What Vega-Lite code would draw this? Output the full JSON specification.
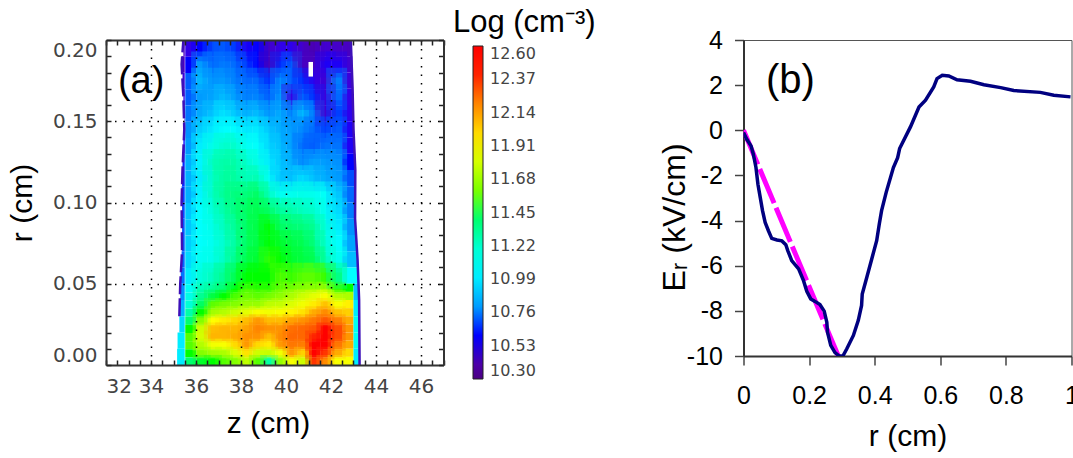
{"$schema":"https://vega.github.io/schema/vega-lite/v6.json","background":"white","padding":{"left":7,"top":6,"right":0,"bottom":0},"bounds":"flush","spacing":299.5,"config":{"view":{"stroke":null},"font":"Liberation Sans"},
"datasets":{
"upper":[
{"z":35.75,"r":0.195,"n":10.55},{"z":36.25,"r":0.195,"n":10.6},{"z":36.75,"r":0.195,"n":10.66},{"z":37.25,"r":0.195,"n":10.68},{"z":37.75,"r":0.195,"n":10.63},{"z":38.25,"r":0.195,"n":10.58},{"z":38.75,"r":0.195,"n":10.6},{"z":39.25,"r":0.195,"n":10.46},{"z":39.75,"r":0.195,"n":10.55},{"z":40.25,"r":0.195,"n":10.56},{"z":40.75,"r":0.195,"n":10.48},{"z":41.25,"r":0.195,"n":10.42},{"z":41.75,"r":0.195,"n":10.5},{"z":42.25,"r":0.195,"n":10.48},
{"z":35.75,"r":0.185,"n":10.6},{"z":36.25,"r":0.185,"n":10.8},{"z":36.75,"r":0.185,"n":10.7},{"z":37.25,"r":0.185,"n":10.74},{"z":37.75,"r":0.185,"n":10.7},{"z":38.25,"r":0.185,"n":10.64},{"z":38.75,"r":0.185,"n":10.6},{"z":39.25,"r":0.185,"n":10.44},{"z":39.75,"r":0.185,"n":10.62},{"z":40.25,"r":0.185,"n":10.68},{"z":40.75,"r":0.185,"n":10.46},{"z":41.25,"r":0.185,"n":10.46},{"z":41.75,"r":0.185,"n":10.58},{"z":42.25,"r":0.185,"n":10.58},
{"z":35.75,"r":0.175,"n":10.68},{"z":36.25,"r":0.175,"n":10.86},{"z":36.75,"r":0.175,"n":10.78},{"z":37.25,"r":0.175,"n":10.8},{"z":37.75,"r":0.175,"n":10.74},{"z":38.25,"r":0.175,"n":10.7},{"z":38.75,"r":0.175,"n":10.7},{"z":39.25,"r":0.175,"n":10.62},{"z":39.75,"r":0.175,"n":10.78},{"z":40.25,"r":0.175,"n":10.68},{"z":40.75,"r":0.175,"n":10.62},{"z":41.25,"r":0.175,"n":10.56},{"z":41.75,"r":0.175,"n":10.5},{"z":42.25,"r":0.175,"n":10.74},
{"z":35.75,"r":0.165,"n":10.68},{"z":36.25,"r":0.165,"n":10.8},{"z":36.75,"r":0.165,"n":10.82},{"z":37.25,"r":0.165,"n":10.88},{"z":37.75,"r":0.165,"n":10.8},{"z":38.25,"r":0.165,"n":10.74},{"z":38.75,"r":0.165,"n":10.76},{"z":39.25,"r":0.165,"n":10.68},{"z":39.75,"r":0.165,"n":10.8},{"z":40.25,"r":0.165,"n":10.54},{"z":40.75,"r":0.165,"n":10.7},{"z":41.25,"r":0.165,"n":10.62},{"z":41.75,"r":0.165,"n":10.52},{"z":42.25,"r":0.165,"n":10.7},
{"z":35.75,"r":0.155,"n":10.72},{"z":36.25,"r":0.155,"n":10.83},{"z":36.75,"r":0.155,"n":10.9},{"z":37.25,"r":0.155,"n":10.98},{"z":37.75,"r":0.155,"n":10.9},{"z":38.25,"r":0.155,"n":10.84},{"z":38.75,"r":0.155,"n":10.88},{"z":39.25,"r":0.155,"n":10.78},{"z":39.75,"r":0.155,"n":10.84},{"z":40.25,"r":0.155,"n":10.74},{"z":40.75,"r":0.155,"n":10.88},{"z":41.25,"r":0.155,"n":10.72},{"z":41.75,"r":0.155,"n":10.5},{"z":42.25,"r":0.155,"n":10.64},
{"z":35.75,"r":0.145,"n":10.78},{"z":36.25,"r":0.145,"n":10.92},{"z":36.75,"r":0.145,"n":11.0},{"z":37.25,"r":0.145,"n":11.06},{"z":37.75,"r":0.145,"n":11.04},{"z":38.25,"r":0.145,"n":10.98},{"z":38.75,"r":0.145,"n":11.0},{"z":39.25,"r":0.145,"n":10.9},{"z":39.75,"r":0.145,"n":10.84},{"z":40.25,"r":0.145,"n":10.8},{"z":40.75,"r":0.145,"n":10.76},{"z":41.25,"r":0.145,"n":10.7},{"z":41.75,"r":0.145,"n":10.64},{"z":42.25,"r":0.145,"n":10.68},
{"z":35.75,"r":0.135,"n":10.8},{"z":36.25,"r":0.135,"n":11.0},{"z":36.75,"r":0.135,"n":11.14},{"z":37.25,"r":0.135,"n":11.22},{"z":37.75,"r":0.135,"n":11.22},{"z":38.25,"r":0.135,"n":11.1},{"z":38.75,"r":0.135,"n":11.06},{"z":39.25,"r":0.135,"n":10.94},{"z":39.75,"r":0.135,"n":10.88},{"z":40.25,"r":0.135,"n":10.8},{"z":40.75,"r":0.135,"n":10.7},{"z":41.25,"r":0.135,"n":10.68},{"z":41.75,"r":0.135,"n":10.72},{"z":42.25,"r":0.135,"n":10.72},
{"z":35.75,"r":0.125,"n":10.85},{"z":36.25,"r":0.125,"n":11.02},{"z":36.75,"r":0.125,"n":11.26},{"z":37.25,"r":0.125,"n":11.3},{"z":37.75,"r":0.125,"n":11.3},{"z":38.25,"r":0.125,"n":11.22},{"z":38.75,"r":0.125,"n":11.14},{"z":39.25,"r":0.125,"n":11.0},{"z":39.75,"r":0.125,"n":10.9},{"z":40.25,"r":0.125,"n":10.84},{"z":40.75,"r":0.125,"n":10.76},{"z":41.25,"r":0.125,"n":10.82},{"z":41.75,"r":0.125,"n":10.8},{"z":42.25,"r":0.125,"n":10.78},
{"z":35.75,"r":0.115,"n":10.85},{"z":36.25,"r":0.115,"n":11.0},{"z":36.75,"r":0.115,"n":11.24},{"z":37.25,"r":0.115,"n":11.32},{"z":37.75,"r":0.115,"n":11.32},{"z":38.25,"r":0.115,"n":11.26},{"z":38.75,"r":0.115,"n":11.28},{"z":39.25,"r":0.115,"n":11.08},{"z":39.75,"r":0.115,"n":10.9},{"z":40.25,"r":0.115,"n":10.88},{"z":40.75,"r":0.115,"n":10.96},{"z":41.25,"r":0.115,"n":10.88},{"z":41.75,"r":0.115,"n":10.84},{"z":42.25,"r":0.115,"n":10.8},
{"z":35.75,"r":0.105,"n":10.85},{"z":36.25,"r":0.105,"n":11.02},{"z":36.75,"r":0.105,"n":11.25},{"z":37.25,"r":0.105,"n":11.34},{"z":37.75,"r":0.105,"n":11.38},{"z":38.25,"r":0.105,"n":11.38},{"z":38.75,"r":0.105,"n":11.42},{"z":39.25,"r":0.105,"n":11.26},{"z":39.75,"r":0.105,"n":11.1},{"z":40.25,"r":0.105,"n":11.12},{"z":40.75,"r":0.105,"n":11.14},{"z":41.25,"r":0.105,"n":11.12},{"z":41.75,"r":0.105,"n":11.08},{"z":42.25,"r":0.105,"n":10.9},
{"z":35.75,"r":0.095,"n":10.9},{"z":36.25,"r":0.095,"n":11.05},{"z":36.75,"r":0.095,"n":11.2},{"z":37.25,"r":0.095,"n":11.3},{"z":37.75,"r":0.095,"n":11.38},{"z":38.25,"r":0.095,"n":11.42},{"z":38.75,"r":0.095,"n":11.45},{"z":39.25,"r":0.095,"n":11.42},{"z":39.75,"r":0.095,"n":11.32},{"z":40.25,"r":0.095,"n":11.3},{"z":40.75,"r":0.095,"n":11.25},{"z":41.25,"r":0.095,"n":11.22},{"z":41.75,"r":0.095,"n":11.1},{"z":42.25,"r":0.095,"n":10.95},
{"z":35.75,"r":0.085,"n":10.9},{"z":36.25,"r":0.085,"n":11.06},{"z":36.75,"r":0.085,"n":11.15},{"z":37.25,"r":0.085,"n":11.26},{"z":37.75,"r":0.085,"n":11.34},{"z":38.25,"r":0.085,"n":11.42},{"z":38.75,"r":0.085,"n":11.46},{"z":39.25,"r":0.085,"n":11.5},{"z":39.75,"r":0.085,"n":11.42},{"z":40.25,"r":0.085,"n":11.4},{"z":40.75,"r":0.085,"n":11.38},{"z":41.25,"r":0.085,"n":11.34},{"z":41.75,"r":0.085,"n":11.18},{"z":42.25,"r":0.085,"n":11.0},
{"z":35.75,"r":0.075,"n":10.92},{"z":36.25,"r":0.075,"n":11.06},{"z":36.75,"r":0.075,"n":11.12},{"z":37.25,"r":0.075,"n":11.22},{"z":37.75,"r":0.075,"n":11.32},{"z":38.25,"r":0.075,"n":11.42},{"z":38.75,"r":0.075,"n":11.46},{"z":39.25,"r":0.075,"n":11.5},{"z":39.75,"r":0.075,"n":11.48},{"z":40.25,"r":0.075,"n":11.46},{"z":40.75,"r":0.075,"n":11.44},{"z":41.25,"r":0.075,"n":11.38},{"z":41.75,"r":0.075,"n":11.22},{"z":42.25,"r":0.075,"n":11.05},
{"z":35.75,"r":0.065,"n":10.95},{"z":36.25,"r":0.065,"n":11.1},{"z":36.75,"r":0.065,"n":11.14},{"z":37.25,"r":0.065,"n":11.24},{"z":37.75,"r":0.065,"n":11.36},{"z":38.25,"r":0.065,"n":11.45},{"z":38.75,"r":0.065,"n":11.48},{"z":39.25,"r":0.065,"n":11.52},{"z":39.75,"r":0.065,"n":11.5},{"z":40.25,"r":0.065,"n":11.48},{"z":40.75,"r":0.065,"n":11.46},{"z":41.25,"r":0.065,"n":11.44},{"z":41.75,"r":0.065,"n":11.3},{"z":42.25,"r":0.065,"n":11.12},
{"z":35.75,"r":0.055,"n":11.0},{"z":36.25,"r":0.055,"n":11.18},{"z":36.75,"r":0.055,"n":11.26},{"z":37.25,"r":0.055,"n":11.35},{"z":37.75,"r":0.055,"n":11.45},{"z":38.25,"r":0.055,"n":11.5},{"z":38.75,"r":0.055,"n":11.5},{"z":39.25,"r":0.055,"n":11.5},{"z":39.75,"r":0.055,"n":11.55},{"z":40.25,"r":0.055,"n":11.52},{"z":40.75,"r":0.055,"n":11.56},{"z":41.25,"r":0.055,"n":11.56},{"z":41.75,"r":0.055,"n":11.52},{"z":42.25,"r":0.055,"n":11.36}
],
"lower":[
{"z":35.75,"r":0.0475,"n":11.1},{"z":36.25,"r":0.0475,"n":11.28},{"z":36.75,"r":0.0475,"n":11.36},{"z":37.25,"r":0.0475,"n":11.42},{"z":37.75,"r":0.0475,"n":11.5},{"z":38.25,"r":0.0475,"n":11.54},{"z":38.75,"r":0.0475,"n":11.52},{"z":39.25,"r":0.0475,"n":11.52},{"z":39.75,"r":0.0475,"n":11.58},{"z":40.25,"r":0.0475,"n":11.62},{"z":40.75,"r":0.0475,"n":11.66},{"z":41.25,"r":0.0475,"n":11.68},{"z":41.75,"r":0.0475,"n":11.72},{"z":42.25,"r":0.0475,"n":11.52},
{"z":35.75,"r":0.0425,"n":11.15},{"z":36.25,"r":0.0425,"n":11.34},{"z":36.75,"r":0.0425,"n":11.46},{"z":37.25,"r":0.0425,"n":11.5},{"z":37.75,"r":0.0425,"n":11.54},{"z":38.25,"r":0.0425,"n":11.58},{"z":38.75,"r":0.0425,"n":11.56},{"z":39.25,"r":0.0425,"n":11.6},{"z":39.75,"r":0.0425,"n":11.64},{"z":40.25,"r":0.0425,"n":11.7},{"z":40.75,"r":0.0425,"n":11.78},{"z":41.25,"r":0.0425,"n":11.84},{"z":41.75,"r":0.0425,"n":11.9},{"z":42.25,"r":0.0425,"n":11.72},
{"z":35.75,"r":0.0375,"n":11.2},{"z":36.25,"r":0.0375,"n":11.42},{"z":36.75,"r":0.0375,"n":11.56},{"z":37.25,"r":0.0375,"n":11.6},{"z":37.75,"r":0.0375,"n":11.62},{"z":38.25,"r":0.0375,"n":11.66},{"z":38.75,"r":0.0375,"n":11.66},{"z":39.25,"r":0.0375,"n":11.74},{"z":39.75,"r":0.0375,"n":11.76},{"z":40.25,"r":0.0375,"n":11.82},{"z":40.75,"r":0.0375,"n":11.88},{"z":41.25,"r":0.0375,"n":11.96},{"z":41.75,"r":0.0375,"n":12.05},{"z":42.25,"r":0.0375,"n":11.9},
{"z":35.75,"r":0.0325,"n":11.3},{"z":36.25,"r":0.0325,"n":11.5},{"z":36.75,"r":0.0325,"n":11.68},{"z":37.25,"r":0.0325,"n":11.72},{"z":37.75,"r":0.0325,"n":11.78},{"z":38.25,"r":0.0325,"n":11.84},{"z":38.75,"r":0.0325,"n":11.9},{"z":39.25,"r":0.0325,"n":11.88},{"z":39.75,"r":0.0325,"n":11.9},{"z":40.25,"r":0.0325,"n":11.94},{"z":40.75,"r":0.0325,"n":11.98},{"z":41.25,"r":0.0325,"n":12.1},{"z":41.75,"r":0.0325,"n":12.18},{"z":42.25,"r":0.0325,"n":12.05},
{"z":35.75,"r":0.0275,"n":11.4},{"z":36.25,"r":0.0275,"n":11.62},{"z":36.75,"r":0.0275,"n":11.92},{"z":37.25,"r":0.0275,"n":11.96},{"z":37.75,"r":0.0275,"n":12.0},{"z":38.25,"r":0.0275,"n":12.06},{"z":38.75,"r":0.0275,"n":12.14},{"z":39.25,"r":0.0275,"n":12.06},{"z":39.75,"r":0.0275,"n":12.06},{"z":40.25,"r":0.0275,"n":12.12},{"z":40.75,"r":0.0275,"n":12.16},{"z":41.25,"r":0.0275,"n":12.24},{"z":41.75,"r":0.0275,"n":12.32},{"z":42.25,"r":0.0275,"n":12.22},
{"z":35.75,"r":0.0225,"n":11.5},{"z":36.25,"r":0.0225,"n":11.78},{"z":36.75,"r":0.0225,"n":12.06},{"z":37.25,"r":0.0225,"n":12.08},{"z":37.75,"r":0.0225,"n":12.08},{"z":38.25,"r":0.0225,"n":12.12},{"z":38.75,"r":0.0225,"n":12.2},{"z":39.25,"r":0.0225,"n":12.16},{"z":39.75,"r":0.0225,"n":12.16},{"z":40.25,"r":0.0225,"n":12.26},{"z":40.75,"r":0.0225,"n":12.28},{"z":41.25,"r":0.0225,"n":12.32},{"z":41.75,"r":0.0225,"n":12.42},{"z":42.25,"r":0.0225,"n":12.34},
{"z":35.75,"r":0.0175,"n":11.55},{"z":36.25,"r":0.0175,"n":11.8},{"z":36.75,"r":0.0175,"n":12.08},{"z":37.25,"r":0.0175,"n":12.08},{"z":37.75,"r":0.0175,"n":12.1},{"z":38.25,"r":0.0175,"n":12.16},{"z":38.75,"r":0.0175,"n":12.16},{"z":39.25,"r":0.0175,"n":12.06},{"z":39.75,"r":0.0175,"n":12.18},{"z":40.25,"r":0.0175,"n":12.28},{"z":40.75,"r":0.0175,"n":12.28},{"z":41.25,"r":0.0175,"n":12.4},{"z":41.75,"r":0.0175,"n":12.46},{"z":42.25,"r":0.0175,"n":12.34},
{"z":35.75,"r":0.0125,"n":11.55},{"z":36.25,"r":0.0125,"n":11.72},{"z":36.75,"r":0.0125,"n":11.88},{"z":37.25,"r":0.0125,"n":11.9},{"z":37.75,"r":0.0125,"n":12.0},{"z":38.25,"r":0.0125,"n":12.14},{"z":38.75,"r":0.0125,"n":12.0},{"z":39.25,"r":0.0125,"n":11.96},{"z":39.75,"r":0.0125,"n":12.14},{"z":40.25,"r":0.0125,"n":12.24},{"z":40.75,"r":0.0125,"n":12.22},{"z":41.25,"r":0.0125,"n":12.44},{"z":41.75,"r":0.0125,"n":12.44},{"z":42.25,"r":0.0125,"n":12.24},
{"z":35.75,"r":0.0075,"n":11.5},{"z":36.25,"r":0.0075,"n":11.62},{"z":36.75,"r":0.0075,"n":11.68},{"z":37.25,"r":0.0075,"n":11.7},{"z":37.75,"r":0.0075,"n":11.82},{"z":38.25,"r":0.0075,"n":11.98},{"z":38.75,"r":0.0075,"n":11.78},{"z":39.25,"r":0.0075,"n":11.76},{"z":39.75,"r":0.0075,"n":11.88},{"z":40.25,"r":0.0075,"n":12.14},{"z":40.75,"r":0.0075,"n":12.02},{"z":41.25,"r":0.0075,"n":12.44},{"z":41.75,"r":0.0075,"n":12.38},{"z":42.25,"r":0.0075,"n":12.1},
{"z":35.75,"r":0.0025,"n":11.4},{"z":36.25,"r":0.0025,"n":11.48},{"z":36.75,"r":0.0025,"n":11.5},{"z":37.25,"r":0.0025,"n":11.55},{"z":37.75,"r":0.0025,"n":11.62},{"z":38.25,"r":0.0025,"n":11.75},{"z":38.75,"r":0.0025,"n":11.55},{"z":39.25,"r":0.0025,"n":11.3},{"z":39.75,"r":0.0025,"n":11.65},{"z":40.25,"r":0.0025,"n":11.9},{"z":40.75,"r":0.0025,"n":11.78},{"z":41.25,"r":0.0025,"n":12.38},{"z":41.75,"r":0.0025,"n":12.18},{"z":42.25,"r":0.0025,"n":11.9}
],
"edges":[
{"z":35.44,"z2":35.5,"r":0.19,"r2":0.2,"n":10.46},{"z":35.38,"z2":35.5,"r":0.18,"r2":0.19,"n":10.46},{"z":35.4,"z2":35.5,"r":0.17,"r2":0.18,"n":10.52},{"z":35.44,"z2":35.5,"r":0.16,"r2":0.17,"n":10.55},{"z":35.48,"z2":35.5,"r":0.15,"r2":0.16,"n":10.56},{"z":35.48,"z2":35.5,"r":0.14,"r2":0.15,"n":10.58},{"z":35.44,"z2":35.5,"r":0.13,"r2":0.14,"n":10.6},{"z":35.4,"z2":35.5,"r":0.12,"r2":0.13,"n":10.62},{"z":35.38,"z2":35.5,"r":0.11,"r2":0.12,"n":10.62},{"z":35.36,"z2":35.5,"r":0.1,"r2":0.11,"n":10.64},{"z":35.38,"z2":35.5,"r":0.09,"r2":0.1,"n":10.66},{"z":35.38,"z2":35.5,"r":0.08,"r2":0.09,"n":10.68},{"z":35.38,"z2":35.5,"r":0.07,"r2":0.08,"n":10.68},{"z":35.36,"z2":35.5,"r":0.06,"r2":0.07,"n":10.7},{"z":35.32,"z2":35.5,"r":0.05,"r2":0.06,"n":10.72},{"z":35.3,"z2":35.5,"r":0.04,"r2":0.05,"n":10.78},{"z":35.28,"z2":35.5,"r":0.03,"r2":0.04,"n":10.85},{"z":35.26,"z2":35.5,"r":0.02,"r2":0.03,"n":10.95},{"z":35.18,"z2":35.5,"r":0.01,"r2":0.02,"n":11.0},{"z":35.16,"z2":35.5,"r":0.0,"r2":0.01,"n":11.0},
{"z":42.5,"z2":42.88,"r":0.19,"r2":0.2,"n":10.46},{"z":42.5,"z2":42.95,"r":0.18,"r2":0.19,"n":10.5},{"z":42.5,"z2":42.96,"r":0.17,"r2":0.18,"n":10.52},{"z":42.5,"z2":42.96,"r":0.16,"r2":0.17,"n":10.55},{"z":42.5,"z2":42.98,"r":0.15,"r2":0.16,"n":10.56},{"z":42.5,"z2":43.0,"r":0.14,"r2":0.15,"n":10.58},{"z":42.5,"z2":43.06,"r":0.13,"r2":0.14,"n":10.58},{"z":42.5,"z2":43.08,"r":0.12,"r2":0.13,"n":10.6},{"z":42.5,"z2":43.08,"r":0.11,"r2":0.12,"n":10.66},{"z":42.5,"z2":43.1,"r":0.1,"r2":0.11,"n":10.7},{"z":42.5,"z2":43.07,"r":0.09,"r2":0.1,"n":10.74},{"z":42.5,"z2":43.07,"r":0.08,"r2":0.09,"n":10.78},{"z":42.5,"z2":43.15,"r":0.07,"r2":0.08,"n":10.82},{"z":42.5,"z2":43.17,"r":0.06,"r2":0.07,"n":10.88},{"z":42.5,"z2":43.2,"r":0.05,"r2":0.06,"n":11.05},
{"z":42.5,"z2":43.0,"r":0.045,"r2":0.05,"n":11.5},{"z":42.5,"z2":43.0,"r":0.04,"r2":0.045,"n":11.7},{"z":42.5,"z2":43.0,"r":0.035,"r2":0.04,"n":11.95},{"z":42.5,"z2":43.0,"r":0.03,"r2":0.035,"n":12.02},{"z":42.5,"z2":43.0,"r":0.025,"r2":0.03,"n":12.1},{"z":42.5,"z2":43.0,"r":0.02,"r2":0.025,"n":12.15},{"z":42.5,"z2":43.0,"r":0.015,"r2":0.02,"n":12.15},{"z":42.5,"z2":43.0,"r":0.01,"r2":0.015,"n":12.1},{"z":42.5,"z2":43.0,"r":0.005,"r2":0.01,"n":12.0},{"z":42.5,"z2":43.0,"r":0.0,"r2":0.005,"n":11.9},
{"z":43.0,"z2":43.25,"r":0.04,"r2":0.05,"n":10.9},{"z":43.0,"z2":43.25,"r":0.03,"r2":0.04,"n":11.0},{"z":43.0,"z2":43.27,"r":0.02,"r2":0.03,"n":11.1},{"z":43.0,"z2":43.27,"r":0.01,"r2":0.02,"n":11.1},{"z":43.0,"z2":43.27,"r":0.0,"r2":0.01,"n":11.0}
],
"outline":[
{"side":"left","z":35.44,"r":0.2},{"side":"left","z":35.36,"r":0.185},{"side":"left","z":35.44,"r":0.165},{"side":"left","z":35.48,"r":0.145},{"side":"left","z":35.4,"r":0.12},{"side":"left","z":35.36,"r":0.1},{"side":"left","z":35.38,"r":0.07},{"side":"left","z":35.3,"r":0.05},{"side":"left","z":35.26,"r":0.03},
{"side":"right","z":42.88,"r":0.2},{"side":"right","z":42.96,"r":0.17},{"side":"right","z":43.0,"r":0.145},{"side":"right","z":43.08,"r":0.12},{"side":"right","z":43.07,"r":0.09},{"side":"right","z":43.18,"r":0.065},{"side":"right","z":43.25,"r":0.04},{"side":"right","z":43.27,"r":0.0}
],
"hole":[{"z":41.0,"z2":41.2,"r":0.1775,"r2":0.1865}],
"notesA":[{"z":33.56,"r":0.174,"label":"(a)"},{"z":47.42,"r":0.2105,"label":"Log (cm⁻³)"}],
"field":[
{"r":0,"E":-0.1},{"r":0.01,"E":-0.4},{"r":0.023,"E":-0.69},{"r":0.03,"E":-1.06},{"r":0.038,"E":-1.65},{"r":0.044,"E":-2.39},{"r":0.051,"E":-2.97},{"r":0.058,"E":-3.56},{"r":0.066,"E":-4.08},{"r":0.076,"E":-4.45},{"r":0.086,"E":-4.79},{"r":0.102,"E":-4.86},{"r":0.117,"E":-4.9},{"r":0.129,"E":-5.07},{"r":0.135,"E":-5.33},{"r":0.147,"E":-5.77},{"r":0.168,"E":-6.14},{"r":0.183,"E":-6.66},{"r":0.193,"E":-7.13},{"r":0.205,"E":-7.47},{"r":0.218,"E":-7.58},{"r":0.233,"E":-7.72},{"r":0.246,"E":-8.01},{"r":0.254,"E":-8.5},{"r":0.256,"E":-8.94},{"r":0.266,"E":-9.53},{"r":0.279,"E":-9.85},{"r":0.292,"E":-10},{"r":0.303,"E":-10},{"r":0.315,"E":-9.68},{"r":0.335,"E":-9.09},{"r":0.35,"E":-8.42},{"r":0.36,"E":-7.76},{"r":0.362,"E":-7.25},{"r":0.376,"E":-6.51},{"r":0.391,"E":-5.7},{"r":0.406,"E":-4.89},{"r":0.414,"E":-4.15},{"r":0.421,"E":-3.56},{"r":0.435,"E":-2.75},{"r":0.457,"E":-1.65},{"r":0.47,"E":-1.21},{"r":0.476,"E":-0.81},{"r":0.509,"E":0.15},{"r":0.535,"E":1.03},{"r":0.555,"E":1.33},{"r":0.58,"E":1.92},{"r":0.59,"E":2.29},{"r":0.606,"E":2.44},{"r":0.626,"E":2.41},{"r":0.651,"E":2.24},{"r":0.692,"E":2.17},{"r":0.733,"E":2.02},{"r":0.784,"E":1.89},{"r":0.824,"E":1.76},{"r":0.905,"E":1.68},{"r":0.946,"E":1.55},{"r":0.997,"E":1.48}
],
"fit":[{"r":0,"E":0},{"r":0.289,"E":-10}],
"notesB":[{"r":0.143,"E":2.2,"label":"(b)"}]
},
"hconcat":[
{"width":337.5,"height":325,"resolve":{"axis":{"x":"independent","y":"independent"}},
"layer":[
{"data":{"name":"upper"},"mark":{"type":"rect"},"encoding":{
"x":{"field":"z","type":"quantitative","bin":{"step":0.5,"extent":[35.5,42.5],"nice":false},"scale":{"domain":[32,47],"nice":false,"zero":false},"axis":null},
"y":{"field":"r","type":"quantitative","bin":{"step":0.01,"extent":[0.05,0.2],"nice":false},"scale":{"domain":[0,0.2],"nice":false},"axis":null},
"color":{"field":"n","type":"quantitative","scale":{"domain":[10.3,10.6,11.05,11.5,11.92,12.14,12.42,12.6],"range":["#4b0082","#0000ff","#00ffff","#00ff00","#ffff00","#ff9900","#ff0000","#ff0000"]},
"legend":{"type":"gradient","title":null,"orient":"none","legendX":367,"legendY":6,"gradientLength":333,"gradientThickness":10,"gradientStrokeColor":"#222","gradientStrokeWidth":1,"values":[10.3,10.53,10.76,10.99,11.22,11.45,11.68,11.91,12.14,12.37,12.6],"format":".2f","labelFont":"DejaVu Sans","labelFontSize":16,"labelColor":"#444","labelOffset":7,"labelOverlap":false}}}},
{"data":{"name":"lower"},"mark":{"type":"rect"},"encoding":{
"x":{"field":"z","type":"quantitative","bin":{"step":0.5,"extent":[35.5,42.5],"nice":false},"axis":null},
"y":{"field":"r","type":"quantitative","bin":{"step":0.005,"extent":[0,0.05],"nice":false},"axis":null},
"color":{"field":"n","type":"quantitative","legend":null}}},
{"data":{"name":"edges"},"mark":{"type":"rect"},"encoding":{
"x":{"field":"z","type":"quantitative","axis":null},"x2":{"field":"z2"},
"y":{"field":"r","type":"quantitative","axis":null},"y2":{"field":"r2"},
"color":{"field":"n","type":"quantitative","legend":null}}},
{"data":{"name":"upper"},"transform":[{"filter":"datum.z > 36 && datum.z < 42.5"}],"mark":{"type":"rect","width":21,"height":26,"opacity":0.4,"clip":true},"encoding":{
"x":{"field":"z","type":"quantitative","axis":null},
"y":{"field":"r","type":"quantitative","axis":null},
"color":{"field":"n","type":"quantitative","legend":null}}},
{"data":{"name":"lower"},"transform":[{"filter":"datum.z > 36 && datum.z < 42.5"}],"mark":{"type":"rect","width":18,"height":12,"opacity":0.3,"clip":true},"encoding":{
"x":{"field":"z","type":"quantitative","axis":null},
"y":{"field":"r","type":"quantitative","axis":null},
"color":{"field":"n","type":"quantitative","legend":null}}},
{"data":{"name":"hole"},"mark":{"type":"rect","color":"white"},"encoding":{
"x":{"field":"z","type":"quantitative","axis":null},"x2":{"field":"z2"},
"y":{"field":"r","type":"quantitative","axis":null},"y2":{"field":"r2"}}},
{"data":{"name":"outline"},"mark":{"type":"line","color":"#3d10b8","strokeWidth":2.5},"encoding":{
"x":{"field":"z","type":"quantitative","axis":null},
"y":{"field":"r","type":"quantitative","axis":null},
"strokeDash":{"field":"side","type":"nominal","scale":{"domain":["left","right"],"range":[[18,4],[1,0]]},"legend":null},
"order":{"field":"r","type":"quantitative"}}},
{"data":{"name":"outline"},"mark":{"type":"point","opacity":0},"encoding":{
"x":{"field":"z","type":"quantitative","axis":{"orient":"bottom","offset":-5,"values":[32,32.5,33,33.5,34,34.5,35,35.5,36,36.5,37,37.5,38,38.5,39,39.5,40,40.5,41,41.5,42,42.5,43,43.5,44,44.5,45,45.5,46,46.5,47],"labelExpr":"datum.value % 2 == 0 && datum.value < 47 ? '' + datum.value : ''","labelOverlap":false,"labelFont":"DejaVu Sans","labelFontSize":20,"labelColor":"#444","tickSize":5,"tickColor":"#222","tickWidth":1.5,"domain":false,"labelPadding":11,"title":"z (cm)","titleFont":"Liberation Sans","titleFontSize":30,"titleFontWeight":"normal","titleColor":"black","titlePadding":12,"titleX":162,"grid":false,"zindex":1}},
"y":{"field":"r","type":"quantitative","axis":{"orient":"left","offset":-5,"values":[0,0.01,0.02,0.03,0.04,0.05,0.06,0.07,0.08,0.09,0.1,0.11,0.12,0.13,0.14,0.15,0.16,0.17,0.18,0.19,0.2],"format":".2f","labelExpr":"indexof(['0.00','0.05','0.10','0.15','0.20'], datum.label) >= 0 ? datum.label : ''","labelOverlap":false,"labelFlush":true,"labelFont":"DejaVu Sans","labelFontSize":20,"labelColor":"#444","tickSize":5,"tickColor":"#222","tickWidth":1.5,"domain":false,"labelPadding":9,"title":"r (cm)","titleFont":"Liberation Sans","titleFontSize":30,"titleFontWeight":"normal","titleColor":"black","titlePadding":15,"grid":false,"zindex":1}}}},
{"data":{"name":"outline"},"mark":{"type":"point","opacity":0},"encoding":{
"x":{"field":"z","type":"quantitative","axis":{"orient":"top","offset":-5,"values":[32,32.5,33,33.5,34,34.5,35,35.5,36,36.5,37,37.5,38,38.5,39,39.5,40,40.5,41,41.5,42,42.5,43,43.5,44,44.5,45,45.5,46,46.5,47],"labels":false,"tickSize":5,"tickColor":"#222","tickWidth":1.5,"domain":false,"title":null,"grid":false,"zindex":1}},
"y":{"field":"r","type":"quantitative","axis":{"orient":"right","offset":-5,"values":[0,0.01,0.02,0.03,0.04,0.05,0.06,0.07,0.08,0.09,0.1,0.11,0.12,0.13,0.14,0.15,0.16,0.17,0.18,0.19,0.2],"labels":false,"tickSize":5,"tickColor":"#222","tickWidth":1.5,"domain":false,"title":null,"grid":false,"zindex":1}}}},
{"data":{"name":"outline"},"mark":{"type":"point","opacity":0},"encoding":{
"x":{"field":"z","type":"quantitative","axis":{"orient":"top","labels":false,"ticks":false,"domain":true,"domainColor":"#333","domainWidth":2,"title":null,"grid":false,"zindex":1}},
"y":{"field":"r","type":"quantitative","axis":{"orient":"right","labels":false,"ticks":false,"domain":true,"domainColor":"#333","domainWidth":2,"title":null,"grid":false,"zindex":1}}}},
{"data":{"name":"outline"},"mark":{"type":"point","opacity":0},"encoding":{
"x":{"field":"z","type":"quantitative","axis":{"orient":"bottom","values":[34,36,38,40,42,44,46],"labels":false,"ticks":false,"domain":true,"domainColor":"#333","domainWidth":2,"title":null,"grid":true,"gridColor":"black","gridDash":[1.5,7],"gridWidth":1.5,"zindex":1}},
"y":{"field":"r","type":"quantitative","axis":{"orient":"left","values":[0.05,0.1,0.15],"labels":false,"ticks":false,"domain":true,"domainColor":"#333","domainWidth":2,"title":null,"grid":true,"gridColor":"black","gridDash":[1.5,7],"gridWidth":1.5,"zindex":1}}}},
{"data":{"name":"notesA"},"mark":{"type":"text","font":"Liberation Sans","fontSize":38,"align":"center","baseline":"middle","color":"black"},"transform":[{"filter":"datum.label == '(a)'"}],"encoding":{
"x":{"field":"z","type":"quantitative","axis":null},"y":{"field":"r","type":"quantitative","axis":null},"text":{"field":"label"}}},
{"data":{"name":"notesA"},"mark":{"type":"text","font":"Liberation Sans","fontSize":31,"align":"left","baseline":"middle","color":"black"},"transform":[{"filter":"datum.label != '(a)'"}],"encoding":{
"x":{"field":"z","type":"quantitative","axis":null},"y":{"field":"r","type":"quantitative","axis":null},"text":{"field":"label"}}}
]},
{"width":328,"height":316,"view":{"stroke":"#555","strokeWidth":1},
"layer":[
{"data":{"name":"fit"},"mark":{"type":"line","color":"#ff00ff","strokeWidth":5,"strokeDash":[37,5],"clip":true},"encoding":{
"x":{"field":"r","type":"quantitative","scale":{"domain":[0,1],"nice":false},"axis":{"values":[0,0.2,0.4,0.6,0.8,1],"labelExpr":"'' + datum.value","labelFont":"Liberation Sans","labelFontSize":25,"labelColor":"black","labelFlush":false,"tickSize":9,"tickColor":"#444","tickWidth":1.5,"domainColor":"#333","domainWidth":2,"labelPadding":18,"grid":false,"title":"r (cm)","titleFont":"Liberation Sans","titleFontSize":30,"titleFontWeight":"normal","titleColor":"black","titlePadding":13}},
"y":{"field":"E","type":"quantitative","scale":{"domain":[-10,4],"nice":false},"axis":{"values":[-10,-8,-6,-4,-2,0,2,4],"labelExpr":"'' + datum.value","labelFont":"Liberation Sans","labelFontSize":25,"labelColor":"black","labelFlush":false,"tickSize":9,"tickColor":"#444","tickWidth":1.5,"domainColor":"#333","domainWidth":2,"labelPadding":12,"grid":false,"title":"Eᵣ (kV/cm)","titleFont":"Liberation Sans","titleFontSize":32,"titleFontWeight":"normal","titleColor":"black","titlePadding":-5,"titleY":177}}}},
{"data":{"name":"field"},"mark":{"type":"line","color":"#000080","strokeWidth":3.5,"clip":true},"encoding":{
"x":{"field":"r","type":"quantitative"},"y":{"field":"E","type":"quantitative"}}},
{"data":{"name":"notesB"},"mark":{"type":"text","font":"Liberation Sans","fontSize":40,"align":"center","baseline":"middle","color":"black"},"encoding":{
"x":{"field":"r","type":"quantitative"},"y":{"field":"E","type":"quantitative"},"text":{"field":"label"}}}
]}
]}
